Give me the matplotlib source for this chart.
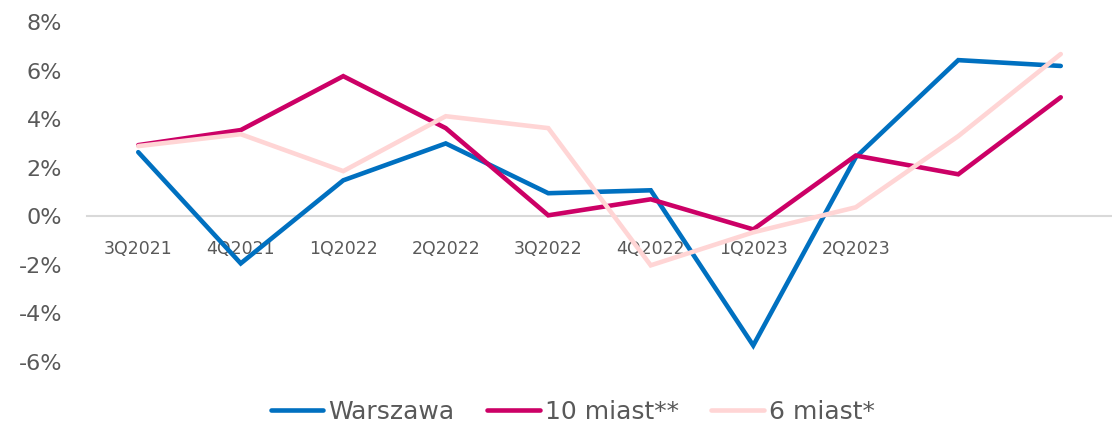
import matplotlib
matplotlib.use('Agg')
import matplotlib.pyplot as plt
import numpy as np

# quarters (last two unlabeled on the axis)
quarters = ["3Q2021", "4Q2021", "1Q2022", "2Q2022", "3Q2022",
            "4Q2022", "1Q2023", "2Q2023", "", ""]

warszawa = [2.64, -1.94, 1.48, 3.00, 0.95, 1.07, -5.32, 2.43, 6.43, 6.19]
miast10  = [2.93, 3.55, 5.77, 3.63, 0.04, 0.70, -0.54, 2.50, 1.73, 4.90]
miast6   = [2.89, 3.38, 1.86, 4.12, 3.63, -2.02, -0.66, 0.37, 3.30, 6.68]

labels = ["Warszawa", "10 miast**", "6 miast*"]
colors = ["#0070C0", "#CC0066", "#FFD5D5"]

plt.rcParams['font.family'] = ['DejaVu Sans']
txt = "#595959"

fig = plt.figure(figsize=(11.12, 4.23), dpi=100)
ax = fig.add_axes([87 / 1112, 1 - 362 / 423, 1 - 87 / 1112, (362 - 22) / 423])

# spine first: moving it resets the ticks
for s in ['top', 'right', 'left']:
    ax.spines[s].set_visible(False)
ax.spines['bottom'].set_position(('data', 0))
ax.spines['bottom'].set_color("#D9D9D9")
ax.spines['bottom'].set_linewidth(1.5)
ax.spines['bottom'].set_zorder(0)

x = np.arange(len(quarters))
for vals, lab, col in zip([warszawa, miast10, miast6], labels, colors):
    ax.plot(x, vals, color=col, lw=3.3, label=lab,
            solid_capstyle='round', solid_joinstyle='miter')

ax.set_xlim(-0.5, len(quarters) - 0.5)
ax.set_ylim(-6, 8)
ax.set_yticks(np.arange(-6, 9, 2))
ax.set_yticklabels([f"{v}%" for v in range(-6, 9, 2)], fontsize=16, color=txt)
ax.tick_params(axis='y', length=0, pad=18)

ax.set_xticks(x)
ax.set_xticklabels(quarters, fontsize=12.5, color=txt)
ax.tick_params(axis='x', length=0, pad=17)

leg = fig.legend(loc='center', bbox_to_anchor=(0.515, 0.026), ncol=3,
                 frameon=False, fontsize=18, handlelength=2.1,
                 columnspacing=1.3, handletextpad=0.2)
for t in leg.get_texts():
    t.set_color(txt)

fig.savefig("out.png", dpi=100)
